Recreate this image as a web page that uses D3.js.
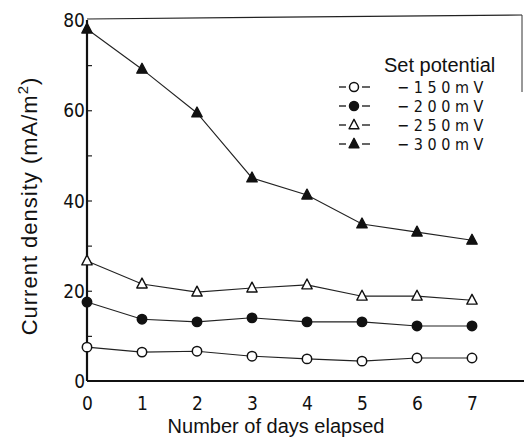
<!DOCTYPE html>
<html>
<head>
<meta charset="utf-8">
<script src="https://cdn.jsdelivr.net/npm/d3@7"></script>
<style>
  html, body { margin: 0; padding: 0; background: #fff; }
  svg { display: block; }
  .tick-label { font-family: "Liberation Sans Narrow", "DejaVu Sans Condensed", "Liberation Sans", sans-serif; font-size: 19px; fill: #111; }
  .title { font-family: "Liberation Sans", Arial, sans-serif; font-size: 20px; fill: #111; }
  .legend-val { font-family: "Liberation Sans Narrow", "DejaVu Sans Condensed", sans-serif; font-size: 16px; fill: #111; letter-spacing: 4.6px; }
</style>
</head>
<body>
<svg id="chart" width="524" height="443"></svg>
<script>
// Days elapsed (x categories)
const days = [0, 1, 2, 3, 4, 5, 6, 7];

// Current density (mA/m²) for each set potential
const mv150 = [7.5, 6.4, 6.6, 5.5, 4.9, 4.4, 5.1, 5.1];
const mv200 = [17.5, 13.7, 13.1, 14.0, 13.1, 13.1, 12.2, 12.2];
const mv250 = [26.6, 21.5, 19.7, 20.6, 21.3, 18.8, 18.8, 17.9];
const mv300 = [78.0, 69.1, 59.4, 45.0, 41.2, 34.8, 33.0, 31.2];

const seriesLabels = ["−150mV", "−200mV", "−250mV", "−300mV"];
const yTickLabels = [0, 20, 40, 60, 80];
const yMinorTicks = [10, 30, 50, 70];

const series = [
  { label: seriesLabels[0], values: mv150, shape: "circle", filled: false },
  { label: seriesLabels[1], values: mv200, shape: "circle", filled: true },
  { label: seriesLabels[2], values: mv250, shape: "triangle", filled: false },
  { label: seriesLabels[3], values: mv300, shape: "triangle", filled: true }
];

const svg = d3.select("#chart");
const x = d3.scaleLinear().domain([0, 7]).range([87, 472]);
const y = d3.scaleLinear().domain([0, 80]).range([381, 20]);

// Frame: top border and short right edge
svg.append("line").attr("x1", x(0)).attr("x2", 522).attr("y1", y(80) - 1).attr("y2", y(80) - 5)
  .attr("stroke", "#222").attr("stroke-width", 1.2);
svg.append("line").attr("x1", 522).attr("x2", 522).attr("y1", y(80) - 5).attr("y2", 92)
  .attr("stroke", "#333").attr("stroke-width", 1);

// Y axis with inward minor/major ticks
const yAxis = d3.axisRight(y).tickValues(yMinorTicks.concat([20, 40, 60])).tickSize(5).tickFormat("");
const gy = svg.append("g").attr("transform", `translate(${x(0)},0)`).call(yAxis);
gy.select(".domain").remove();
gy.selectAll(".tick line").attr("stroke", "#222").attr("stroke-width", 1.2);
svg.append("line").attr("x1", x(0)).attr("x2", x(0)).attr("y1", y(80)).attr("y2", y(0))
  .attr("stroke", "#111").attr("stroke-width", 2.2);

svg.selectAll(".ylab").data(yTickLabels).join("text")
  .attr("class", "tick-label")
  .attr("x", 85).attr("y", d => y(d) + 7)
  .attr("text-anchor", "end")
  .text(d => d);

// X axis
svg.append("line").attr("x1", x(0)).attr("x2", 524).attr("y1", y(0)).attr("y2", y(0))
  .attr("stroke", "#111").attr("stroke-width", 1.8);
const xAxis = d3.axisBottom(x).tickValues(days).tickSize(0).tickFormat(d => d);
const gx = svg.append("g").attr("transform", `translate(0,${y(0)})`).call(xAxis);
gx.select(".domain").remove();
gx.selectAll(".tick text").attr("class", "tick-label").attr("dy", null).attr("y", 29);

// Axis titles
svg.append("text").attr("class", "title")
  .attr("x", 276).attr("y", 433).attr("text-anchor", "middle")
  .style("font-size", "20px")
  .text("Number of days elapsed");

const yTitle = svg.append("text").attr("class", "title")
  .attr("transform", "translate(37,206) rotate(-90)")
  .attr("text-anchor", "middle")
  .style("font-size", "22px")
  .style("letter-spacing", "1px");
yTitle.append("tspan").text("Current density (mA/m");
yTitle.append("tspan").attr("dy", -9).style("font-size", "15px").text("2");
yTitle.append("tspan").attr("dy", 9).text(")");

// Marker drawing
function drawMarker(sel, s, size) {
  if (s.shape === "circle") {
    sel.append("circle").attr("r", size)
      .attr("fill", s.filled ? "#111" : "#fff")
      .attr("stroke", "#111").attr("stroke-width", 1.5);
  } else {
    const h = size * 2.1, w = size * 2.2;
    sel.append("path")
      .attr("d", `M0,${-h * 0.6} L${w / 2},${h * 0.4} L${-w / 2},${h * 0.4} Z`)
      .attr("fill", s.filled ? "#111" : "#fff")
      .attr("stroke", "#111").attr("stroke-width", 1.4).attr("stroke-linejoin", "round");
  }
}

const line = d3.line().x((d, i) => x(days[i])).y(d => y(d));

series.forEach(s => {
  svg.append("path").attr("d", line(s.values))
    .attr("fill", "none").attr("stroke", "#222").attr("stroke-width", 1.1);
  s.values.forEach((v, i) => {
    const g = svg.append("g").attr("transform", `translate(${x(days[i])},${y(v)})`);
    drawMarker(g, s, 4.7);
  });
});

// Legend
svg.append("text").attr("class", "title").attr("x", 384).attr("y", 72)
  .style("font-size", "20px").text("Set potential");
const rowY = [87, 106, 125, 144];
series.forEach((s, i) => {
  const cy = rowY[i];
  svg.append("line").attr("x1", 339).attr("x2", 346).attr("y1", cy).attr("y2", cy)
    .attr("stroke", "#111").attr("stroke-width", 1.3);
  svg.append("line").attr("x1", 362).attr("x2", 370).attr("y1", cy).attr("y2", cy)
    .attr("stroke", "#111").attr("stroke-width", 1.3);
  const g = svg.append("g").attr("transform", `translate(354,${cy})`);
  drawMarker(g, s, 4.5);
  svg.append("text").attr("class", "legend-val")
    .attr("x", 397).attr("y", cy + 6).text(s.label);
});
</script>
</body>
</html>
